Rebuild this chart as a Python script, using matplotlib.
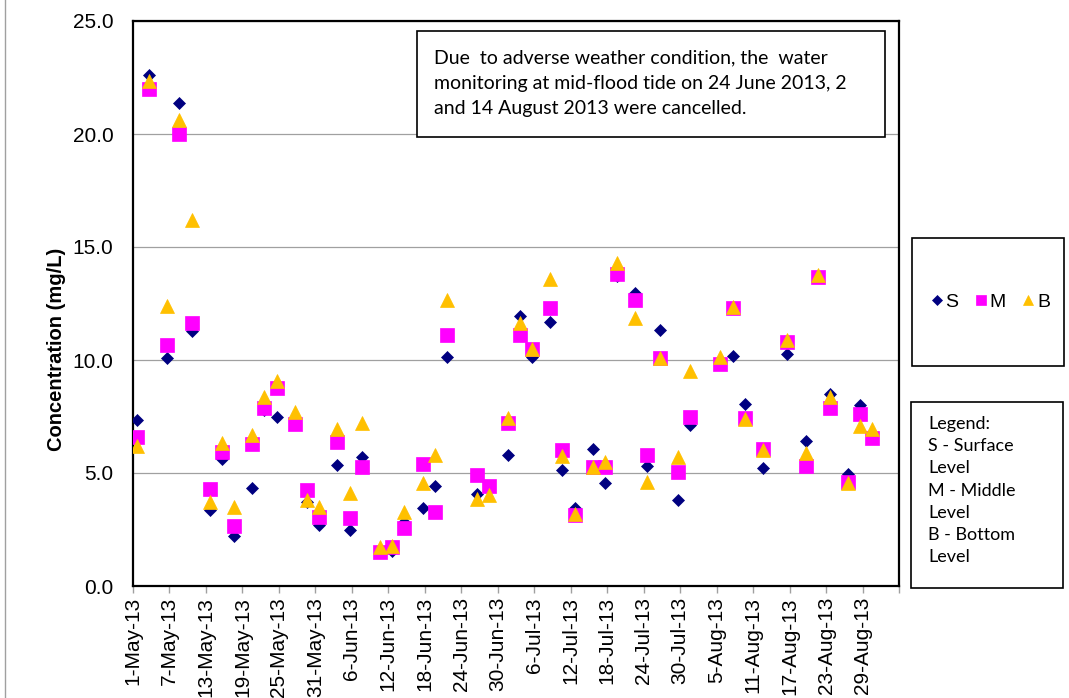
import matplotlib
matplotlib.use("Agg")
import matplotlib.pyplot as plt
import matplotlib.dates as mdates
from matplotlib.lines import Line2D
from matplotlib.patches import Rectangle
from matplotlib.ticker import FuncFormatter, FormatStrFormatter, MultipleLocator
import pandas as pd

plt.rcParams['font.family'] = ['Liberation Sans', 'DejaVu Sans']

# monitoring dates (mid-flood tide)
sample_dates = [
    "2013-05-01", "2013-05-03", "2013-05-06", "2013-05-08", "2013-05-10",
    "2013-05-13", "2013-05-15", "2013-05-17", "2013-05-20", "2013-05-22",
    "2013-05-24", "2013-05-27", "2013-05-29", "2013-05-31", "2013-06-03",
    "2013-06-05", "2013-06-07", "2013-06-10", "2013-06-12", "2013-06-14",
    "2013-06-17", "2013-06-19", "2013-06-21", "2013-06-26", "2013-06-28",
    "2013-07-01", "2013-07-03", "2013-07-05", "2013-07-08", "2013-07-10",
    "2013-07-12", "2013-07-15", "2013-07-17", "2013-07-19", "2013-07-22",
    "2013-07-24", "2013-07-26", "2013-07-29", "2013-07-31", "2013-08-05",
    "2013-08-07", "2013-08-09", "2013-08-12", "2013-08-16", "2013-08-19",
    "2013-08-21", "2013-08-23", "2013-08-26", "2013-08-28", "2013-08-30",
]

surface = [
    7.35, 22.6, 10.1, 21.36, 11.3, 3.36, 5.6, 2.23, 4.35, 7.8,
    7.49, 7.2, 3.73, 2.7, 5.35, 2.5, 5.72, 1.5, 1.56, 2.85,
    3.44, 4.44, 10.15, 4.07, 4.4, 5.8, 11.96, 10.15, 11.7, 5.13,
    3.44, 6.05, 4.54, 13.7, 12.95, 5.3, 11.33, 3.8, 7.12, 9.9,
    10.19, 8.04, 5.24, 10.25, 6.42, 13.7, 8.5, 4.96, 8.0, 6.7,
]
middle = [
    6.6, 22.0, 10.65, 20.0, 11.65, 4.28, 5.94, 2.65, 6.28, 7.86,
    8.75, 7.17, 4.25, 3.04, 6.39, 3.0, 5.25, 1.49, 1.74, 2.55,
    5.4, 3.29, 11.1, 4.91, 4.44, 7.2, 11.1, 10.47, 12.29, 6.02,
    3.14, 5.28, 5.28, 13.8, 12.65, 5.8, 10.07, 5.06, 7.46, 9.82,
    12.29, 7.45, 6.05, 10.78, 5.31, 13.66, 7.89, 4.62, 7.6, 6.53,
]
bottom = [
    6.2, 22.35, 12.4, 20.6, 16.2, 3.7, 6.34, 3.5, 6.68, 8.38,
    9.07, 7.68, 3.8, 3.51, 6.95, 4.1, 7.23, 1.74, 1.78, 3.29,
    4.54, 5.8, 12.65, 3.83, 4.03, 7.42, 11.62, 10.47, 13.6, 5.75,
    3.2, 5.28, 5.5, 14.3, 11.87, 4.62, 10.1, 5.7, 9.53, 10.15,
    12.36, 7.38, 6.0, 10.88, 5.87, 13.76, 8.35, 4.54, 7.08, 6.93,
]

note_text = ("Due  to adverse weather condition, the  water\n"
             "monitoring at mid-flood tide on 24 June 2013, 2\n"
             "and 14 August 2013 were cancelled.")
legend_note = "Legend:\nS - Surface\nLevel\nM - Middle\nLevel\nB - Bottom\nLevel"

W, H = 1069, 698


def fx(x):
    return x / W


def fy(y):
    return 1 - y / H


# points sit inside the day slot (Excel date axis)
x = pd.to_datetime(sample_dates) + pd.Timedelta(hours=15)

fig = plt.figure(figsize=(W / 100, H / 100), dpi=100)
ax = fig.add_axes([fx(133), fy(586), fx(899 - 133), (586 - 21) / H])

h_s, = ax.plot(x, surface, ls='none', marker='D', ms=6.6, color='#000080',
               mec='#000080', mew=0.5, label='S', zorder=3)
h_m, = ax.plot(x, middle, ls='none', marker='s', ms=9.4, color='#ff00ff',
               mec='#ff00ff', mew=0.5, label='M', zorder=4)
h_b, = ax.plot(x, bottom, ls='none', marker='^', ms=9.6, color='#ffc000',
               mec='#ffc000', mew=0.5, label='B', zorder=5)

ax.set_ylim(0, 25)
ax.yaxis.set_major_locator(MultipleLocator(5))
ax.yaxis.set_major_formatter(FormatStrFormatter('%.1f'))
ax.grid(axis='y', color='#a0a0a0', lw=0.9)
ax.set_axisbelow(True)

start = pd.Timestamp("2013-05-01")
end = pd.Timestamp("2013-09-04")
ax.set_xlim(start, end)
ax.set_xticks(pd.date_range(start, end, freq='6D'))


def date_label(v, pos):
    d = mdates.num2date(v)
    if d.month == 9:
        return ''
    return f"{d.day}-{d.strftime('%b-%y')}"


ax.xaxis.set_major_formatter(FuncFormatter(date_label))
ax.tick_params(axis='x', labelsize=15, rotation=90, length=5, width=1,
               color='#a0a0a0', pad=3)
ax.tick_params(axis='y', labelsize=15, length=0, pad=14)

for sp in ax.spines.values():
    sp.set_color('black')
    sp.set_linewidth(1.6)

ax.set_ylabel("Concentration (mg/L)", fontsize=14.5, fontweight='bold')
ax.yaxis.set_label_coords(fx(66), 0.5, transform=fig.transFigure)

# note box
fig.add_artist(Rectangle((fx(417), fy(136.5)), fx(885 - 417), (136.5 - 31.5) / H,
                         transform=fig.transFigure, fc='white', ec='black', lw=1.2,
                         zorder=6))
fig.text(fx(434), fy(83), note_text, family=['Lato', 'DejaVu Sans'], fontsize=14,
         ha='left', va='center', linespacing=1.6, zorder=7)

# legend box
fig.add_artist(Rectangle((fx(912.5), fy(366)), fx(1064 - 912.5), (366 - 238) / H,
                         transform=fig.transFigure, fill=False, ec='black', lw=1.2))
fig.legend(handles=[h_s, h_m, h_b], loc='center', ncol=3, frameon=False,
           bbox_to_anchor=(fx(991), fy(302)), fontsize=14, markerscale=0.75,
           handlelength=0.5, handletextpad=0.2, columnspacing=0.9,
           borderpad=0)

# legend description box
fig.add_artist(Rectangle((fx(911), fy(588)), fx(1063 - 911), (588 - 401.5) / H,
                         transform=fig.transFigure, fill=False, ec='black', lw=1.2))
fig.text(fx(928), fy(490.5), legend_note, family=['Lato', 'DejaVu Sans'],
         fontsize=13, ha='left', va='center', linespacing=1.48)

# left page border
fig.add_artist(Line2D([fx(5), fx(5)], [0, 1], color='#a0a0a0', lw=1,
                      transform=fig.transFigure))

fig.savefig("out.png", dpi=100, facecolor='white')
